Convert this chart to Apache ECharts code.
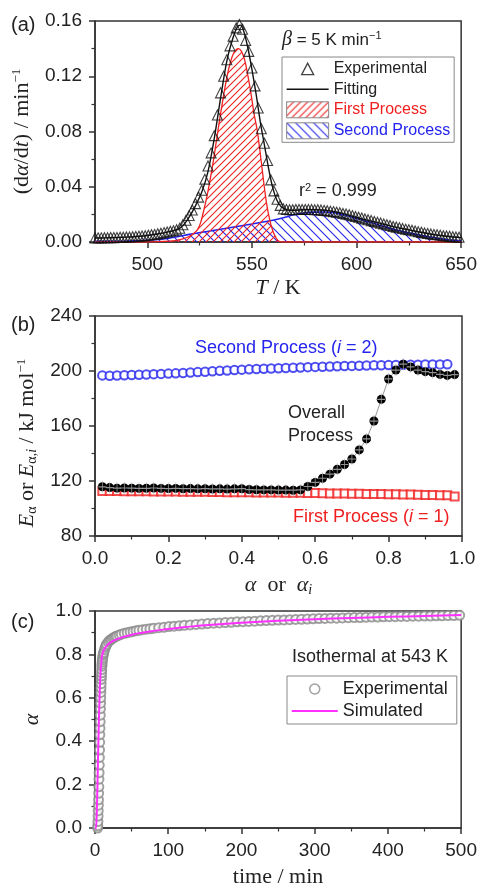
<!DOCTYPE html>
<html><head><meta charset="utf-8">
<script src="https://cdn.jsdelivr.net/npm/echarts@6/dist/echarts.min.js"></script>
<style>html,body{margin:0;padding:0;background:#fff}#c{width:480px;height:890px}</style>
</head><body><div id="c"></div>
<script>
// ---------- Panel (a): dα/dt vs T ----------
const tempExp = [475,476.5,478,479.5,481,482.5,484,485.5,487,488.5,490,491.5,493,494.5,496,497.5,499,500.5,502,503.5,505,506.5,508,509.5,511,512.5,514,515.5,517,518.5,520,521.5,523,524.5,526,527.5,529,530.5,532,533.5,535,536.5,538,539.5,541,542.5,544,545.5,547,548.5,550,551.5,553,554.5,556,557.5,559,560.5,562,563.5,565,566.5,568,569.5,571,572.5,574,575.5,577,578.5,580,581.5,583,584.5,586,587.5,589,590.5,592,593.5,595,596.5,598,599.5,601,602.5,604,605.5,607,608.5,610,611.5,613,614.5,616,617.5,619,620.5,622,623.5,625,626.5,628,629.5,631,632.5,634,635.5,637,638.5,640,641.5,643,644.5,646,647.5,649];
const rateExp = [0.0030,0.0030,0.0030,0.0031,0.0031,0.0032,0.0032,0.0033,0.0034,0.0035,0.0036,0.0037,0.0038,0.0040,0.0042,0.0044,0.0046,0.0049,0.0052,0.0055,0.0059,0.0063,0.0068,0.0073,0.0078,0.0081,
0.0088,0.0100,0.0125,0.0158,0.0192,0.0232,0.0278,0.0325,0.0375,0.0455,0.0550,0.0645,0.0770,0.0920,0.1080,0.1200,0.1320,0.1420,0.1490,0.1550,
0.1575,0.1540,0.1460,0.1380,0.1260,0.1130,0.0970,0.0820,0.0715,0.0590,0.0450,0.0370,0.0310,0.0265,0.0240,
0.0235,0.0234,0.0234,0.0235,0.0236,0.0236,0.0236,0.0236,0.0235,0.0234,0.0233,0.0231,0.0229,0.0226,0.0223,0.0220,0.0216,0.0212,0.0207,0.0202,0.0197,0.0191,0.0185,0.0179,0.0173,0.0167,0.0161,0.0155,0.0149,0.0143,0.0137,0.0131,0.0125,0.0119,0.0113,0.0108,0.0103,0.0098,0.0093,0.0089,0.0085,0.0080,0.0075,0.0070,0.0066,0.0062,0.0058,0.0055,0.0052,0.0049,0.0046,0.0043,0.0041,0.0038,0.0036,0.0034];
const tempFit = [475,480,485,490,495,500,505,510,514,517,520,523,526,529,532,535,538,541,543,544.5,546,548,550,552,554,556,558,560,562,564,567,570,575,580,585,590,595,600,605,610,615,620,625,630,635,640,645,650];
const rateFit = [0.0029,0.0030,0.0032,0.0035,0.0040,0.0047,0.0058,0.0073,0.0088,0.0118,0.0180,0.0262,0.0360,0.0510,0.0750,0.1040,0.1310,0.1480,0.1555,0.1570,0.1530,0.1410,0.1250,0.1070,0.0870,0.0700,0.0530,0.0390,0.0300,0.0255,0.0232,0.0230,0.0233,0.0233,0.0230,0.0218,0.0200,0.0178,0.0158,0.0140,0.0120,0.0102,0.0088,0.0072,0.0058,0.0047,0.0038,0.0032];
const tempP1 = [475,500,505,510,514,517,520,522,524,525.5,527,528.5,530,531.5,533,534.5,536,537.5,539,540.5,542,543.5,545,546.5,548,549.5,551,552.5,554,555.5,557,558.5,560,561.5,563,565,650];
const rateP1 = [0,0,0.0002,0.0006,0.0012,0.0022,0.0040,0.0060,0.0090,0.0140,0.0230,0.0330,0.0450,0.0580,0.0730,0.0880,0.1020,0.1150,0.1260,0.1340,0.1385,0.1400,0.1380,0.1320,0.1210,0.1080,0.0930,0.0810,0.0640,0.0450,0.0280,0.0160,0.0080,0.0030,0.0005,0,0];
const tempP2 = [475,490,500,505,510,515,520,530,540,550,560,565,570,575,580,585,590,595,600,605,610,615,620,625,630,635,640,645,650];
const rateP2 = [0.0005,0.0007,0.0012,0.0018,0.0027,0.0040,0.0055,0.0080,0.0105,0.0130,0.0158,0.0175,0.0197,0.0210,0.0216,0.0217,0.0211,0.0192,0.0171,0.0150,0.0127,0.0104,0.0083,0.0066,0.0050,0.0036,0.0024,0.0014,0.0008];
const ticksTa = [500,550,600,650];
const minorTa = [525,575,625];

// ---------- Panel (b): activation energy vs conversion ----------
const alphaP2 = [0.02,0.04,0.06,0.08,0.10,0.12,0.14,0.16,0.18,0.20,0.22,0.24,0.26,0.28,0.30,0.32,0.34,0.36,0.38,0.40,0.42,0.44,0.46,0.48,0.50,0.52,0.54,0.56,0.58,0.60,0.62,0.64,0.66,0.68,0.70,0.72,0.74,0.76,0.78,0.80,0.82,0.84,0.86,0.88,0.90,0.92,0.94,0.96];
const eP2 = [196.8,196.6,196.7,196.9,197.1,197.3,197.5,197.7,197.9,198.1,198.3,198.6,198.9,199.2,199.5,199.8,200.1,200.4,200.7,201.0,201.2,201.4,201.6,201.8,202.0,202.2,202.4,202.6,202.8,203.0,203.1,203.3,203.4,203.6,203.7,203.8,204.0,204.1,204.2,204.3,204.4,204.5,204.6,204.6,204.7,204.7,204.8,204.9];
const alphaP1 = [0.02,0.04,0.06,0.08,0.10,0.12,0.14,0.16,0.18,0.20,0.22,0.24,0.26,0.28,0.30,0.32,0.34,0.36,0.38,0.40,0.42,0.44,0.46,0.48,0.50,0.52,0.54,0.56,0.58,0.60,0.62,0.64,0.66,0.68,0.70,0.72,0.74,0.76,0.78,0.80,0.82,0.84,0.86,0.88,0.90,0.92,0.94,0.96,0.98];
const eP1 = [112.8,112.7,112.7,112.6,112.6,112.5,112.5,112.4,112.4,112.3,112.3,112.2,112.2,112.1,112.1,112.0,112.0,111.9,111.9,111.8,111.8,111.7,111.7,111.6,111.6,111.5,111.5,111.4,111.3,111.2,111.1,111.0,110.9,110.9,110.8,110.7,110.6,110.6,110.5,110.4,110.3,110.2,110.1,110.0,109.9,109.8,109.7,109.6,108.8];
const alphaAll = [0.02,0.04,0.06,0.08,0.10,0.12,0.14,0.16,0.18,0.20,0.22,0.24,0.26,0.28,0.30,0.32,0.34,0.36,0.38,0.40,0.42,0.44,0.46,0.48,0.50,0.52,0.54,0.56,0.58,0.60,0.62,0.64,0.66,0.68,0.70,0.72,0.74,0.76,0.78,0.80,0.82,0.84,0.86,0.88,0.90,0.92,0.94,0.96,0.98];
const eAll = [115.8,115.2,114.8,114.9,114.8,114.6,114.7,114.9,114.6,114.5,114.6,114.4,114.5,114.3,114.4,114.2,114.3,114.1,114.3,114.4,113.8,113.6,113.5,113.5,113.4,113.4,113.3,113.5,116.0,119.0,122.0,125.0,128.5,132.0,136.0,142.6,150.6,163.6,179.4,194.2,200.7,205.0,203.0,200.7,199.5,198.8,197.5,196.8,197.4];

// ---------- Panel (c): isothermal conversion ----------
const timeExp = [3.6,3.8,4.0,4.2,4.4,4.6,4.8,5.0,5.2,5.4,5.6,5.8,6.0,6.2,6.4,6.6,6.8,7.0,7.2,7.4,7.6,7.8,8.0,8.2,8.4,8.6,8.8,9.0,9.2,9.4,9.6,9.8,10.0,10.5,11,11.5,12,13,14,15,16,18,20,22,24,26,28,30,33,36,40,44,48,52,56,60,65,70,75,80,87,94,101,108,115,122,130,138,146,154,162,170,178,186,194,202,210,218,226,234,242,250,258,266,274,282,290,298,306,314,322,330,338,346,354,362,370,378,386,394,402,410,418,426,434,442,450,458,466,474,482,490,498];
const convExp = [0.0,0.01,0.03,0.055,0.08,0.105,0.13,0.16,0.19,0.225,0.255,0.29,0.325,0.36,0.395,0.43,0.46,0.49,0.52,0.55,0.575,0.6,0.625,0.645,0.665,0.685,0.7,0.715,0.73,0.745,0.755,0.765,0.775,0.785,0.795,0.803,0.81,0.822,0.832,0.84,0.847,0.857,0.864,0.869,0.874,0.878,0.882,0.885,0.889,0.893,0.897,0.9,0.903,0.906,0.909,0.911,0.914,0.916,0.918,0.92,0.923,0.925,0.928,0.93,0.932,0.934,0.936,0.938,0.94,0.942,0.944,0.945,0.947,0.948,0.95,0.951,0.952,0.953,0.955,0.956,0.957,0.958,0.959,0.96,0.961,0.962,0.963,0.964,0.965,0.966,0.967,0.967,0.968,0.969,0.97,0.97,0.971,0.972,0.972,0.973,0.974,0.974,0.975,0.975,0.976,0.976,0.977,0.977,0.978,0.978,0.979,0.979,0.98];
const timeSim = [0,1.5,2.5,3.5,4.5,5.5,6.5,7.5,8.5,9.5,11,13,15,18,22,27,33,40,50,60,75,90,110,130,160,200,250,300,350,400,450,500];
const convSim = [0,0,0.08,0.22,0.38,0.52,0.63,0.71,0.76,0.79,0.812,0.826,0.836,0.847,0.857,0.866,0.874,0.882,0.891,0.898,0.906,0.913,0.921,0.928,0.937,0.946,0.955,0.962,0.968,0.973,0.977,0.981];

const pairs = (xs, ys) => xs.map((x, i) => [x, ys[i]]);

function hatch(color, size, dir, lw) {
  const c = document.createElement('canvas'); c.width = size; c.height = size;
  const g = c.getContext('2d'); g.strokeStyle = color; g.lineWidth = lw;
  g.beginPath();
  if (dir > 0) {
    g.moveTo(0, size); g.lineTo(size, 0);
    g.moveTo(-size / 2, size / 2); g.lineTo(size / 2, -size / 2);
    g.moveTo(size / 2, size * 1.5); g.lineTo(size * 1.5, size / 2);
  } else {
    g.moveTo(0, 0); g.lineTo(size, size);
    g.moveTo(-size / 2, size / 2); g.lineTo(size / 2, size * 1.5);
    g.moveTo(size / 2, -size / 2); g.lineTo(size * 1.5, size / 2);
  }
  g.stroke();
  return { image: c, repeat: 'repeat' };
}
const RED = '#f02020', BLUE = '#2424ee', MAG = '#ff30ff', GRAY = '#8a8a8a';
const redPat = hatch(RED, 7, 1, 1.1);
const bluePat = hatch(BLUE, 9, -1, 1.1);

const SANS = 'Liberation Sans, Arial, sans-serif';
const SERIF = 'Liberation Serif, Times New Roman, serif';
const AX = '#333';
const richT = {
  i: { fontFamily: SERIF, fontSize: 22, fontStyle: 'italic', color: '#222' },
  s: { fontFamily: SERIF, fontSize: 13, verticalAlign: 'top', lineHeight: 13, color: '#222' },
  sub: { fontFamily: SERIF, fontSize: 14, verticalAlign: 'bottom', lineHeight: 14, color: '#222' },
  subi: { fontFamily: SERIF, fontSize: 14, fontStyle: 'italic', verticalAlign: 'bottom', lineHeight: 14, color: '#222' }
};
function nameStyle(extra) {
  return Object.assign({ fontFamily: SERIF, fontSize: 22, color: '#222', lineHeight: 24, rich: richT }, extra || {});
}
function axisBase(fmt, extra) {
  return Object.assign({
    type: 'value',
    axisLine: { show: true, onZero: false, lineStyle: { color: AX, width: 1.5 } },
    axisTick: { show: true, length: 6, lineStyle: { color: AX, width: 1.5 } },
    minorTick: { show: true, splitNumber: 2, length: 3.5, lineStyle: { color: AX, width: 1.2 } },
    splitLine: { show: false },
    axisLabel: { color: '#222', fontSize: 19, fontFamily: SANS, margin: 13, formatter: fmt }
  }, extra);
}
const gridBase = { show: true, borderColor: AX, borderWidth: 1.5, backgroundColor: 'transparent' };

// legend icons (drawn at the icon box size, 1:1)
const triIcon = 'path://M0,0M42,16M15,14L21,2.5L27,14Z';
const lineIconA = 'path://M0,0M42,16M0,7.2L42,7.2L42,8.8L0,8.8Z';
const lineIconC = 'path://M0,0M46,12M0,5L46,5L46,7L0,7Z';
const circIconC = 'path://M0,0M46,12M28,6A5,5,0,1,1,18,6A5,5,0,1,1,28,6Z';

const option = {
  animation: false,
  backgroundColor: '#fff',
  grid: [
    Object.assign({ left: 95, top: 21, width: 367, height: 221 }, gridBase),
    Object.assign({ left: 95, top: 316, width: 367, height: 220 }, gridBase),
    Object.assign({ left: 95, top: 611, width: 367, height: 220 }, gridBase)
  ],
  xAxis: [
    axisBase(v => String(v), {
      gridIndex: 0, min: 475, max: 650,
      axisTick: { show: true, length: 6, customValues: ticksTa, lineStyle: { color: AX, width: 1.5 } },
      axisLabel: { color: '#222', fontSize: 19, fontFamily: SANS, margin: 13, customValues: ticksTa },
      minorTick: { show: false },
      name: '{i|T} / K', nameLocation: 'middle', nameGap: 34, nameTextStyle: nameStyle()
    }),
    {
      type: 'value', gridIndex: 0, min: 475, max: 650, position: 'bottom',
      axisLine: { show: false }, axisLabel: { show: false }, splitLine: { show: false },
      axisTick: { show: true, length: 3.5, customValues: minorTa, lineStyle: { color: AX, width: 1.2 } }
    },
    axisBase(v => v.toFixed(1), {
      gridIndex: 1, min: 0, max: 1, interval: 0.2,
      name: '{i|α}  or  {i|α}{subi|i}', nameLocation: 'middle', nameGap: 37, nameTextStyle: nameStyle()
    }),
    axisBase(v => String(v), {
      gridIndex: 2, min: 0, max: 500, interval: 100,
      name: 'time / min', nameLocation: 'middle', nameGap: 37, nameTextStyle: nameStyle()
    })
  ],
  yAxis: [
    axisBase(v => v.toFixed(2), {
      gridIndex: 0, min: 0, max: 0.16, interval: 0.04,
      name: '(d{i|α}/d{i|t}) / min{s|−1}', nameLocation: 'middle', nameGap: 52, nameTextStyle: nameStyle()
    }),
    axisBase(v => String(v), {
      gridIndex: 1, min: 80, max: 240, interval: 40,
      name: '{i|E}{sub|α} or {i|E}{sub|α,}{subi|i} / kJ mol{s|−1}', nameLocation: 'middle', nameGap: 52,
      nameTextStyle: nameStyle({ padding: [0, 34, 0, 0] })
    }),
    axisBase(v => v.toFixed(1), {
      gridIndex: 2, min: 0, max: 1, interval: 0.2,
      name: '{i|α}', nameLocation: 'middle', nameGap: 50, nameTextStyle: nameStyle()
    })
  ],
  legend: [
    {
      orient: 'vertical', left: 282, top: 57, padding: [3, 4, 3, 4],
      itemWidth: 42, itemHeight: 16, itemGap: 4, selectedMode: false,
      borderColor: '#888', borderWidth: 1, backgroundColor: '#fff',
      textStyle: { fontFamily: SANS, fontSize: 16, lineHeight: 16, color: '#222' },
      data: [
        { name: 'Experimental', icon: triIcon, itemStyle: { color: '#fff', borderColor: '#111', borderWidth: 1.3 } },
        { name: 'Fitting', icon: lineIconA, itemStyle: { color: '#111', borderWidth: 0 } },
        { name: 'First Process', icon: 'rect', itemStyle: { color: redPat, borderColor: '#888', borderWidth: 1 }, textStyle: { color: RED } },
        { name: 'Second Process', icon: 'rect', itemStyle: { color: bluePat, borderColor: '#888', borderWidth: 1 }, textStyle: { color: BLUE } }
      ]
    },
    {
      orient: 'vertical', left: 287, top: 676, padding: [3, 4, 3, 4],
      itemWidth: 46, itemHeight: 12, itemGap: 2, selectedMode: false,
      borderColor: '#888', borderWidth: 1, backgroundColor: '#fff',
      textStyle: { fontFamily: SANS, fontSize: 18, lineHeight: 20, color: '#222' },
      data: [
        { name: 'Experimental ', icon: circIconC, itemStyle: { color: '#fff', borderColor: GRAY, borderWidth: 1.5 } },
        { name: 'Simulated', icon: lineIconC, itemStyle: { color: MAG, borderWidth: 0 } }
      ]
    }
  ],
  graphic: [
    { type: 'text', x: 11, y: 25, style: { text: '(a)', fontFamily: SANS, fontSize: 20, fill: '#222', verticalAlign: 'middle' } },
    { type: 'text', x: 11, y: 325, style: { text: '(b)', fontFamily: SANS, fontSize: 20, fill: '#222', verticalAlign: 'middle' } },
    { type: 'text', x: 11, y: 622, style: { text: '(c)', fontFamily: SANS, fontSize: 20, fill: '#222', verticalAlign: 'middle' } },
    { type: 'text', x: 282, y: 40, style: { text: '{b|β} = 5 K min{s|−1}', fontFamily: SANS, fontSize: 17, fill: '#222', verticalAlign: 'middle',
      rich: { b: { fontFamily: SERIF, fontStyle: 'italic', fontSize: 20, fill: '#222' }, s: { fontFamily: SANS, fontSize: 11, verticalAlign: 'top', lineHeight: 11, fill: '#222' } } } },
    { type: 'text', x: 299, y: 191, style: { text: 'r{s|2} = 0.999', fontFamily: SANS, fontSize: 18, fill: '#222', verticalAlign: 'middle',
      rich: { s: { fontFamily: SANS, fontSize: 11, verticalAlign: 'top', lineHeight: 11, fill: '#222' } } } },
    { type: 'text', x: 195, y: 348, style: { text: 'Second Process ({i|i} = 2)', fontFamily: SANS, fontSize: 18, fill: BLUE, verticalAlign: 'middle',
      rich: { i: { fontFamily: SANS, fontStyle: 'italic', fontSize: 18, fill: BLUE } } } },
    { type: 'text', x: 288, y: 425, style: { text: 'Overall\nProcess', fontFamily: SANS, fontSize: 18, lineHeight: 23, fill: '#222', verticalAlign: 'middle' } },
    { type: 'text', x: 293, y: 517, style: { text: 'First Process ({i|i} = 1)', fontFamily: SANS, fontSize: 18, fill: RED, verticalAlign: 'middle',
      rich: { i: { fontFamily: SANS, fontStyle: 'italic', fontSize: 18, fill: RED } } } },
    { type: 'text', x: 292, y: 657, style: { text: 'Isothermal at 543 K', fontFamily: SANS, fontSize: 18, fill: '#222', verticalAlign: 'middle' } }
  ],
  series: [
    { name: 'Second Process', type: 'line', xAxisIndex: 0, yAxisIndex: 0, data: pairs(tempP2, rateP2), symbol: 'none', smooth: 0.3,
      lineStyle: { color: BLUE, width: 1.6 }, itemStyle: { color: BLUE }, areaStyle: { color: bluePat, opacity: 1 }, z: 2 },
    { name: 'First Process', type: 'line', xAxisIndex: 0, yAxisIndex: 0, data: pairs(tempP1, rateP1), symbol: 'none', smooth: 0.3,
      lineStyle: { color: RED, width: 1.3 }, itemStyle: { color: RED }, areaStyle: { color: redPat, opacity: 1 }, z: 3 },
    { name: 'Fitting', type: 'line', xAxisIndex: 0, yAxisIndex: 0, data: pairs(tempFit, rateFit), symbol: 'none', smooth: 0.3,
      lineStyle: { color: '#111', width: 1.4 }, itemStyle: { color: '#111' }, z: 4 },
    { name: 'Experimental', type: 'scatter', xAxisIndex: 0, yAxisIndex: 0, data: pairs(tempExp, rateExp), symbol: 'triangle', symbolSize: 10,
      itemStyle: { color: 'rgba(255,255,255,0)', borderColor: '#111', borderWidth: 1.1 }, z: 5 },

    { name: 'Second Process (i = 2)', type: 'scatter', xAxisIndex: 2, yAxisIndex: 1, data: pairs(alphaP2, eP2), symbol: 'emptyCircle', symbolSize: 8.5,
      itemStyle: { color: BLUE, borderColor: BLUE, borderWidth: 1.1 }, z: 2 },
    { name: 'First Process (i = 1)', type: 'scatter', xAxisIndex: 2, yAxisIndex: 1, data: pairs(alphaP1, eP1), symbol: 'emptyRect', symbolSize: 8,
      itemStyle: { color: RED, borderColor: RED, borderWidth: 1.1 }, z: 3 },
    { name: 'Overall Process', type: 'line', xAxisIndex: 2, yAxisIndex: 1, data: pairs(alphaAll, eAll), symbol: 'circle', symbolSize: 9, showAllSymbol: true,
      lineStyle: { color: '#999', width: 1 }, itemStyle: { color: '#000' }, z: 4 },
    { name: 'Overall error', type: 'scatter', xAxisIndex: 2, yAxisIndex: 1, data: pairs(alphaAll, eAll), symbol: 'path://M0,6L10,6M5,0L5,12', symbolSize: [8, 12],
      itemStyle: { color: 'none', borderColor: '#b5b5b5', borderWidth: 1 }, z: 5 },

    { name: 'Experimental ', type: 'scatter', xAxisIndex: 3, yAxisIndex: 2, data: pairs(timeExp, convExp), symbol: 'emptyCircle', symbolSize: 9,
      itemStyle: { color: GRAY, borderColor: GRAY, borderWidth: 1.5 }, z: 2 },
    { name: 'Simulated', type: 'line', xAxisIndex: 3, yAxisIndex: 2, data: pairs(timeSim, convSim), symbol: 'none', smooth: 0.2,
      lineStyle: { color: MAG, width: 2 }, itemStyle: { color: MAG }, z: 3 }
  ]
};
const chart = echarts.init(document.getElementById('c'), null, { renderer: 'canvas' });
chart.setOption(option);
</script></body></html>
